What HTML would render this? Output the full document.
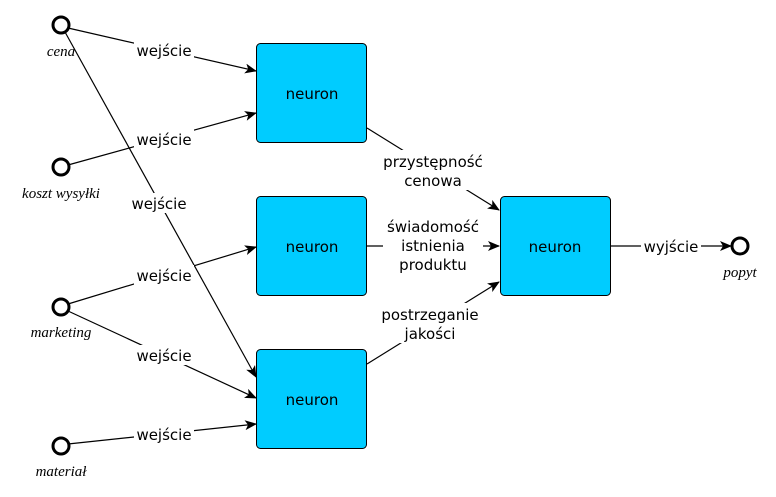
<!DOCTYPE html>
<html><head><meta charset="utf-8"><style>
html,body{margin:0;padding:0;background:#fff;width:776px;height:497px;overflow:hidden}
svg{display:block}
.l{font-family:"DejaVu Sans","Liberation Sans",sans-serif;font-size:15px;fill:#000;text-anchor:middle}
.i{font-family:"Liberation Serif",serif;font-style:italic;font-size:15px;fill:#000;text-anchor:middle}
</style></head><body>
<svg width="776" height="497" viewBox="0 0 776 497">
<defs><marker id="a" markerWidth="12" markerHeight="10" refX="11" refY="5" orient="auto" markerUnits="userSpaceOnUse"><path d="M0,0 L12,5 L0,10 L3,5 Z" fill="#000"/></marker></defs>
<g stroke="#000" stroke-width="1.2" fill="none">
<line x1="68" y1="28" x2="256" y2="71" marker-end="url(#a)"/>
<line x1="68" y1="165" x2="256" y2="113" marker-end="url(#a)"/>
<line x1="65" y1="32" x2="256" y2="377" marker-end="url(#a)"/>
<line x1="68" y1="304" x2="256" y2="247" marker-end="url(#a)"/>
<line x1="68" y1="311" x2="256" y2="398" marker-end="url(#a)"/>
<line x1="68" y1="444" x2="256" y2="424" marker-end="url(#a)"/>
<line x1="367" y1="128" x2="499" y2="210" marker-end="url(#a)"/>
<line x1="367" y1="246" x2="499" y2="246" marker-end="url(#a)"/>
<line x1="367" y1="364" x2="499" y2="282" marker-end="url(#a)"/>
<line x1="610" y1="246" x2="731" y2="246" marker-end="url(#a)"/>
</g>
<g fill="#00ccff" stroke="#000" stroke-width="1">
<rect x="256.5" y="43.5" width="110" height="99" rx="4"/>
<rect x="256.5" y="196.5" width="110" height="99" rx="4"/>
<rect x="256.5" y="349.5" width="110" height="99" rx="4"/>
<rect x="500.5" y="196.5" width="110" height="99" rx="4"/>
</g>
<g fill="#fff" stroke="#000" stroke-width="3">
<circle cx="61" cy="25" r="8"/><circle cx="61" cy="167" r="8"/><circle cx="61" cy="307" r="8"/><circle cx="61" cy="446" r="8"/><circle cx="740" cy="246" r="8"/>
</g>
<g fill="#fff">
<rect x="134" y="40" width="60" height="20"/><rect x="134" y="129" width="60" height="20"/>
<rect x="129" y="193" width="60" height="20"/><rect x="134" y="265" width="60" height="20"/>
<rect x="134" y="345" width="60" height="20"/><rect x="134" y="424" width="60" height="20"/>
<rect x="376" y="150" width="108" height="40"/><rect x="383" y="216" width="100" height="60"/>
<rect x="376" y="303" width="108" height="40"/><rect x="641" y="236" width="60" height="20"/>
</g>
<g class="l">
<text x="164" y="56">wejście</text><text x="164" y="145">wejście</text>
<text x="159" y="209">wejście</text><text x="164" y="281">wejście</text>
<text x="164" y="361">wejście</text><text x="164" y="440">wejście</text>
<text x="312" y="99">neuron</text><text x="312" y="252">neuron</text>
<text x="312" y="405">neuron</text><text x="555" y="252">neuron</text>
<text x="433" y="167">przystępność</text><text x="433" y="186">cenowa</text>
<text x="433" y="232">świadomość</text><text x="433" y="251">istnienia</text><text x="433" y="270">produktu</text>
<text x="430" y="320">postrzeganie</text><text x="430" y="339">jakości</text>
<text x="671" y="252">wyjście</text>
</g>
<g class="i">
<text x="61" y="56">cena</text><text x="61" y="198">koszt  wysyłki</text>
<text x="61" y="337">marketing</text><text x="61" y="476">materiał</text><text x="740" y="277">popyt</text>
</g>
</svg>
</body></html>
